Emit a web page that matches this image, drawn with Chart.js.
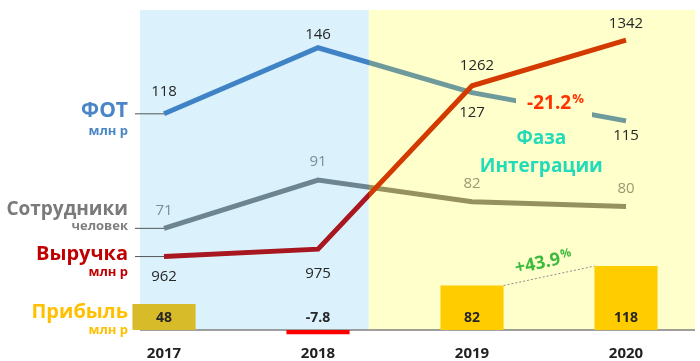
<!DOCTYPE html>
<html>
<head>
<meta charset="utf-8">
<script src="https://cdn.jsdelivr.net/npm/chart.js@4"></script>
<style>
  html, body { margin: 0; padding: 0; background: #fff; }
  #wrap { width: 700px; height: 361px; }
</style>
</head>
<body>
<div id="wrap"><canvas id="chart"></canvas></div>
<script>
// Данные
const years = ['2017', '2018', '2019', '2020'];
const fot = [118, 146, 127, 115];          // ФОТ, млн р
const staff = [71, 91, 82, 80];            // Сотрудники, человек
const revenue = [962, 975, 1262, 1342];    // Выручка, млн р
const profit = [48, -7.8, 82, 118];        // Прибыль, млн р
const fotChange = ['-21.2', '%'];
const profitChange = ['+43.9', '%'];
const phaseTitle = ['Фаза', 'Интеграции'];

// граница между фазами (в единицах оси x)
const phaseSplit = 1.33;

const FONT = "'Open Sans', 'Noto Sans', sans-serif";
const BLUE_BG = '#dbf2fc';
const YELLOW_BG = '#ffffcc';

const pts = arr => arr.map((v, i) => ({ x: i, y: v }));

// цвет линии меняется на границе фаз
function splitColor(c1, c2) {
    return function (context) {
        const chart = context.chart;
        const area = chart.chartArea;
        const xs = chart.scales.x;
        if (!area || !xs) return c1;
        const b = xs.getPixelForValue(phaseSplit);
        const f = Math.min(1, Math.max(0, (b - area.left) / (area.right - area.left)));
        const g = chart.ctx.createLinearGradient(area.left, 0, area.right, 0);
        g.addColorStop(0, c1);
        g.addColorStop(f, c1);
        g.addColorStop(f, c2);
        g.addColorStop(1, c2);
        return g;
    };
}

function drawText(ctx, str, x, y, font, color, align) {
    ctx.font = font;
    ctx.fillStyle = color;
    ctx.textAlign = align || 'center';
    ctx.textBaseline = 'middle';
    ctx.fillText(str, x, y);
}

// текст с маленьким знаком % справа
function drawPct(ctx, parts, x, y, bigFont, smallFont, color) {
    ctx.font = bigFont;
    const w1 = ctx.measureText(parts[0]).width;
    ctx.font = smallFont;
    const w2 = ctx.measureText(parts[1]).width;
    const left = x - (w1 + w2) / 2;
    drawText(ctx, parts[0], left, y, bigFont, color, 'left');
    drawText(ctx, parts[1], left + w1 + 1, y - 4, smallFont, color, 'left');
}

const decor = {
    id: 'decor',
    beforeDraw(chart) {
        const { ctx, chartArea: a, scales } = chart;
        const b = scales.x.getPixelForValue(phaseSplit);
        const zeroY = scales.yProfit.getPixelForValue(0);
        ctx.save();
        ctx.fillStyle = BLUE_BG;
        ctx.fillRect(a.left, a.top, b - a.left, zeroY - a.top);
        ctx.fillStyle = YELLOW_BG;
        ctx.fillRect(b, a.top, a.right - b, zeroY - a.top);
        ctx.strokeStyle = '#808080';
        ctx.lineWidth = 1.5;
        ctx.beginPath();
        ctx.moveTo(a.left, zeroY);
        ctx.lineTo(a.right, zeroY);
        ctx.stroke();
        ctx.restore();
    },
    afterDatasetsDraw(chart) {
        const { ctx, chartArea: a, scales } = chart;
        const revMeta = chart.getDatasetMeta(0);
        const fotMeta = chart.getDatasetMeta(1);
        const staffMeta = chart.getDatasetMeta(2);
        const barMeta = chart.getDatasetMeta(3);
        const numFont = '15px ' + FONT;
        ctx.save();

        // разрыв линии ФОТ под подписью -21.2%
        const p2 = fotMeta.data[2], p3 = fotMeta.data[3];
        const mx = (p2.x + p3.x) / 2, my = (p2.y + p3.y) / 2;
        ctx.fillStyle = YELLOW_BG;
        ctx.fillRect(mx - 33, my - 12, 76, 24);
        drawPct(ctx, fotChange, mx + 6, my - 3, 'bold 19px ' + FONT, 'bold 13px ' + FONT, '#ff3300');

        // подписи значений
        const fotDy = [-22, -13, 20, 15];
        fotMeta.data.forEach((p, i) => drawText(ctx, String(fot[i]), p.x, p.y + fotDy[i], numFont, '#262626'));
        const staffColors = ['#7b8c95', '#7b8c95', '#9c9872', '#9c9872'];
        staffMeta.data.forEach((p, i) => drawText(ctx, String(staff[i]), p.x, p.y - 18, numFont, staffColors[i]));
        const revDy = [20, 25, -20, -16];
        const revDx = [0, 0, 5, 0];
        revMeta.data.forEach((p, i) => drawText(ctx, String(revenue[i]), p.x + revDx[i], p.y + revDy[i], numFont, '#262626'));

        const zeroY = scales.yProfit.getPixelForValue(0);
        barMeta.data.forEach((bar, i) => drawText(ctx, String(profit[i]), bar.x, zeroY - 12, 'bold 14px ' + FONT, '#262626'));

        // Фаза Интеграции
        const phx = scales.x.getPixelForValue(2.45);
        drawText(ctx, phaseTitle[0], phx, 139, 'bold 19px ' + FONT, '#22dbb8');
        drawText(ctx, phaseTitle[1], phx, 167, 'bold 19px ' + FONT, '#22dbb8');

        // рост прибыли
        const b2 = barMeta.data[2], b3 = barMeta.data[3];
        const x1 = b2.x + b2.width / 2, y1 = b2.y;
        const x2 = b3.x - b3.width / 2, y2 = b3.y;
        ctx.strokeStyle = '#8c8c8c';
        ctx.lineWidth = 1;
        ctx.setLineDash([2, 2]);
        ctx.beginPath();
        ctx.moveTo(x1, y1);
        ctx.lineTo(x2, y2);
        ctx.stroke();
        ctx.setLineDash([]);
        const ang = Math.atan2(y2 - y1, x2 - x1);
        ctx.save();
        ctx.translate((x1 + x2) / 2 - 6, (y1 + y2) / 2 - 13);
        ctx.rotate(ang);
        drawPct(ctx, profitChange, 0, 0, 'bold 18px ' + FONT, 'bold 12px ' + FONT, '#3dbb3d');
        ctx.restore();

        // подписи рядов слева с выносками
        const lx = a.left - 12;
        const leader = (p) => {
            ctx.strokeStyle = '#555';
            ctx.lineWidth = 1;
            ctx.beginPath();
            ctx.moveTo(a.left - 5, p.y);
            ctx.lineTo(p.x, p.y);
            ctx.stroke();
        };
        const f0 = fotMeta.data[0];
        leader(f0);
        drawText(ctx, 'ФОТ', lx, f0.y - 3, 'bold 21px ' + FONT, '#4a86c5', 'right');
        drawText(ctx, 'млн р', lx, f0.y + 17, 'bold 13px ' + FONT, '#4a86c5', 'right');
        const s0 = staffMeta.data[0];
        leader(s0);
        drawText(ctx, 'Сотрудники', lx, s0.y - 19, 'bold 19px ' + FONT, '#7a7a7a', 'right');
        drawText(ctx, 'человек', lx, s0.y - 2, 'bold 13px ' + FONT, '#7f7f7f', 'right');
        const r0 = revMeta.data[0];
        leader(r0);
        drawText(ctx, 'Выручка', lx, r0.y - 2, 'bold 20px ' + FONT, '#c00000', 'right');
        drawText(ctx, 'млн р', lx, r0.y + 16, 'bold 13px ' + FONT, '#c00000', 'right');
        drawText(ctx, 'Прибыль', lx, zeroY - 18, 'bold 20px ' + FONT, '#ffc000', 'right');
        drawText(ctx, 'млн р', lx, zeroY, 'bold 13px ' + FONT, '#ffc000', 'right');

        ctx.restore();
    }
};

const ctx = document.getElementById('chart').getContext('2d');
new Chart(ctx, {
    type: 'line',
    data: {
        datasets: [{
            label: 'Выручка',
            data: pts(revenue),
            yAxisID: 'yRev',
            borderColor: splitColor('#a8161f', '#d33a00'),
            borderWidth: 5,
            pointRadius: 0,
            tension: 0
        }, {
            label: 'ФОТ',
            data: pts(fot),
            yAxisID: 'yFot',
            borderColor: splitColor('#3f82c6', '#6f9a9c'),
            borderWidth: 5,
            pointRadius: 0,
            tension: 0
        }, {
            label: 'Сотрудники',
            data: pts(staff),
            yAxisID: 'yStaff',
            borderColor: splitColor('#6d8591', '#96925f'),
            borderWidth: 5,
            pointRadius: 0,
            tension: 0
        }, {
            type: 'bar',
            label: 'Прибыль',
            data: pts(profit),
            yAxisID: 'yProfit',
            backgroundColor: ['#d8bb28', '#ff0000', '#ffcc00', '#ffcc00'],
            categoryPercentage: 1,
            barPercentage: 0.41,
            clip: false
        }]
    },
    options: {
        responsive: true,
        maintainAspectRatio: false,
        animation: false,
        layout: { padding: { left: 140, right: 5, top: 10, bottom: -9 } },
        plugins: {
            legend: { display: false },
            tooltip: { enabled: false }
        },
        scales: {
            x: {
                type: 'linear',
                bounds: 'data',
                min: -0.156,
                max: 3.448,
                offset: false,
                grid: { display: false, drawTicks: false },
                border: { display: false },
                afterBuildTicks: scale => {
                    scale.ticks = years.map((_, i) => ({ value: i }));
                },
                ticks: {
                    padding: 7,
                    color: '#222',
                    font: { family: FONT, size: 15, weight: 'bold' },
                    callback: v => years[v]
                }
            },
            yFot: { display: false, min: 23, max: 162 },
            yStaff: { display: false, min: 25.6, max: 161.4 },
            yRev: { display: false, min: 819, max: 1395 },
            yProfit: { display: false, min: -14.9, max: 591 }
        }
    },
    plugins: [decor]
});
</script>
</body>
</html>
